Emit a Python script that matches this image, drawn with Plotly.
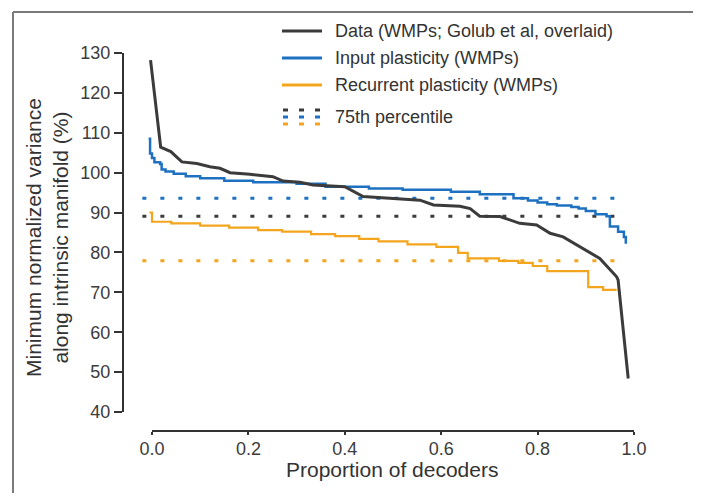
import plotly.graph_objects as go

# ---------------- data ----------------
data_x = [-0.003, 0.018, 0.039, 0.062, 0.093, 0.12, 0.141, 0.162, 0.203, 0.251, 0.272, 0.307,
          0.334, 0.40, 0.438, 0.515, 0.556, 0.584, 0.639, 0.66, 0.68, 0.722, 0.763, 0.798,
          0.826, 0.853, 0.89, 0.929, 0.964, 0.967, 0.988]
data_y = [128.2, 106.4, 105.3, 102.7, 102.3, 101.5, 101.1, 100.0, 99.6, 99.0, 97.9, 97.6,
          96.9, 96.5, 94.0, 93.3, 93.1, 91.9, 91.6, 91.0, 89.1, 89.0, 87.3, 86.9,
          84.8, 83.9, 81.3, 78.5, 73.9, 73.1, 48.4]

input_x = [-0.007, -0.004, 0.0, 0.005, 0.017, 0.02, 0.028, 0.045, 0.07, 0.10, 0.15, 0.21,
           0.30, 0.36, 0.45, 0.52, 0.62, 0.68, 0.75, 0.78, 0.80, 0.82, 0.84, 0.87, 0.885,
           0.90, 0.92, 0.943, 0.95, 0.967, 0.979, 0.983]
input_y = [108.5, 104.8, 103.7, 102.6, 102.2, 100.8, 100.3, 99.7, 99.1, 98.6, 98.0, 97.6,
           97.2, 96.5, 96.0, 95.7, 95.2, 94.6, 93.6, 93.0, 92.5, 92.1, 91.8, 91.4, 91.0,
           90.4, 89.6, 89.1, 86.5, 85.2, 83.9, 82.2]

recur_x = [-0.005, 0.0, 0.04, 0.10, 0.16, 0.22, 0.27, 0.33, 0.38, 0.43, 0.47, 0.53, 0.59,
           0.635, 0.655, 0.72, 0.76, 0.79, 0.82, 0.905, 0.936, 0.964]
recur_y = [90.0, 87.7, 87.3, 86.7, 86.2, 85.6, 85.2, 84.6, 84.1, 83.4, 82.8, 82.0, 81.4,
           79.9, 78.5, 77.9, 77.4, 76.6, 75.3, 71.3, 70.6, 70.6]

pct_names = ["Data", "Input", "Recurrent"]
pct_values = [89.1, 93.6, 77.9]
pct_x = [-0.02, 0.985]

x_ticks = [0.0, 0.2, 0.4, 0.6, 0.8, 1.0]
x_ticktext = ["0.0", "0.2", "0.4", "0.6", "0.8", "1.0"]
y_ticks = [40, 50, 60, 70, 80, 90, 100, 110, 120, 130]

legend_labels = ["Data (WMPs; Golub et al, overlaid)", "Input plasticity (WMPs)",
                 "Recurrent plasticity (WMPs)", "75th percentile"]

# ---------------- style ----------------
C_BLACK = "#3b3b3b"
C_BLUE = "#1e71c0"
C_ORANGE = "#f3a51e"
colors = {"Data": C_BLACK, "Input": C_BLUE, "Recurrent": C_ORANGE}
FONT = "Liberation Sans, Arial, sans-serif"
TXT = "#333333"

W, H = 701, 493
OFF = 8  # page body margin offset
# plot area in screen pixels
SX0, SX1, SY0, SY1 = 123, 650, 45, 431
PW, PH = SX1 - SX0, SY1 - SY0
ML, MT = SX0 - OFF, SY0 - OFF
MR, MB = W - ML - PW, H - MT - PH


def px(xs):
    return (xs - SX0) / PW


def py(ys):
    return (SY1 - ys) / PH


fig = go.Figure()

# percentile dotted lines
for name, val in zip(pct_names, pct_values):
    fig.add_trace(go.Scatter(x=pct_x, y=[val, val], mode="lines",
                             line=dict(color=colors[name], width=3, dash="4px,14px"),
                             showlegend=False, hoverinfo="skip"))

fig.add_trace(go.Scatter(x=recur_x, y=recur_y, mode="lines", line_shape="hv",
                         line=dict(color=C_ORANGE, width=2.2), showlegend=False))
fig.add_trace(go.Scatter(x=input_x, y=input_y, mode="lines", line_shape="hv",
                         line=dict(color=C_BLUE, width=2.5), showlegend=False))
fig.add_trace(go.Scatter(x=data_x, y=data_y, mode="lines",
                         line=dict(color=C_BLACK, width=3), showlegend=False))

shapes = []
# detached axis lines
shapes.append(dict(type="line", xref="paper", yref="y", x0=0, x1=0, y0=40, y1=130,
                   line=dict(color=TXT, width=2)))
shapes.append(dict(type="line", xref="x", yref="paper", x0=0, x1=1.0, y0=0, y1=0,
                   line=dict(color=TXT, width=2)))
# outer frame (top and left)
shapes.append(dict(type="line", xref="paper", yref="paper", x0=px(13), x1=px(W + 10),
                   y0=py(12), y1=py(12), line=dict(color="#7a7a7a", width=2)))
shapes.append(dict(type="line", xref="paper", yref="paper", x0=px(13), x1=px(13),
                   y0=py(12), y1=py(H + 10), line=dict(color="#7a7a7a", width=2)))

# legend samples
row_y = [31, 58, 85]
for yy, c in zip(row_y, [C_BLACK, C_BLUE, C_ORANGE]):
    shapes.append(dict(type="line", xref="paper", yref="paper", x0=px(282), x1=px(322),
                       y0=py(yy), y1=py(yy), line=dict(color=c, width=3)))
for yy, c in zip([110, 117, 124], [C_BLACK, C_BLUE, C_ORANGE]):
    for xs in [283, 299, 315]:
        shapes.append(dict(type="line", xref="paper", yref="paper", x0=px(xs), x1=px(xs + 5),
                           y0=py(yy), y1=py(yy), line=dict(color=c, width=3)))

annotations = []
for lab, yy in zip(legend_labels, [31, 58, 85, 117]):
    annotations.append(dict(text=lab, xref="paper", yref="paper", x=px(333), y=py(yy),
                            xanchor="left", yanchor="middle", showarrow=False,
                            font=dict(family=FONT, size=18, color=TXT)))
annotations.append(dict(text="Proportion of decoders", xref="paper", yref="paper",
                        x=px(392), y=py(470), xanchor="center", yanchor="middle",
                        showarrow=False, font=dict(family=FONT, size=21, color=TXT)))
annotations.append(dict(text="Minimum normalized variance<br>along intrinsic manifold (%)",
                        xref="paper", yref="paper", x=px(47), y=py(238), textangle=-90,
                        xanchor="center", yanchor="middle", showarrow=False,
                        font=dict(family=FONT, size=21, color=TXT)))

fig.update_layout(
    width=W, height=H,
    margin=dict(l=ML, r=MR, t=MT, b=MB, pad=0),
    paper_bgcolor="white", plot_bgcolor="white",
    shapes=shapes, annotations=annotations,
    showlegend=False,
    xaxis=dict(range=[(SX0 - 152) / 482, (SX1 - 152) / 482],
               tickvals=x_ticks, ticktext=x_ticktext, ticks="outside", ticklen=3,
               tickwidth=1.5, tickcolor=TXT, showgrid=False, zeroline=False, showline=False,
               ticklabelstandoff=-2,
               tickfont=dict(family=FONT, size=18, color="#3c3c3c")),
    yaxis=dict(range=[40 - (SY1 - 412) / 3.989, 130 + (53 - SY0) / 3.989],
               tickvals=y_ticks, ticks="outside", ticklen=8, tickwidth=1.8, tickcolor=TXT,
               showgrid=False, zeroline=False, showline=False,
               tickfont=dict(family=FONT, size=18, color="#3c3c3c")),
)

fig.write_html("out.html")
